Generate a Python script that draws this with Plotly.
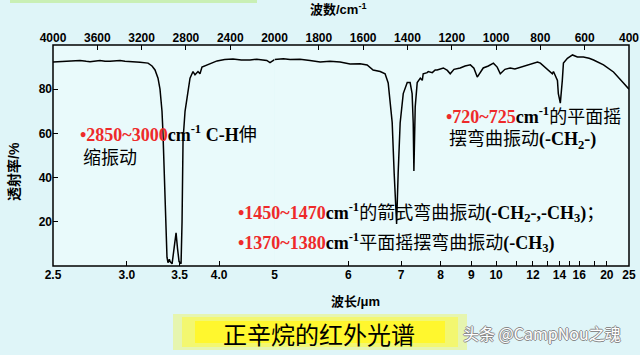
import plotly.graph_objects as go

# ---------------- data ----------------
wavenumber = [4000, 3900, 3846, 3756, 3700, 3666, 3576, 3530, 3485, 3420, 3395, 3350, 3305,
              3260, 3214, 3142, 3106, 3079, 3052, 3034, 3016, 3007, 2989, 2971, 2962, 2950,
              2943, 2925, 2907, 2889, 2876, 2862, 2844, 2835, 2826, 2808, 2790, 2763, 2736,
              2718, 2691, 2673, 2655, 2610, 2555, 2519, 2450, 2375, 2300, 2221, 2160, 2113,
              2070, 2041, 2000,
              1960, 1930, 1885, 1840, 1794, 1750, 1704, 1659, 1614, 1582, 1555, 1523, 1501,
              1487, 1478, 1469, 1460, 1453, 1449, 1442, 1433, 1419, 1401, 1388, 1379, 1374,
              1371, 1365, 1356, 1342, 1333, 1329, 1311, 1306, 1288, 1275, 1266, 1238, 1220,
              1207, 1190, 1162, 1140, 1116, 1100, 1085, 1070, 1058, 1035, 1012, 995, 981,
              960, 936, 915, 890, 859, 835, 813, 800, 780, 768, 746, 741, 723, 719, 710, 701,
              696, 678, 655, 633, 606, 580, 560, 515, 470, 425, 400]
transmittance = [92.3, 92.6, 92.5, 93.0, 92.6, 92.4, 93.0, 92.6, 92.6, 93.0, 93.0, 92.7, 92.6,
                 92.4, 92.2, 91.8, 90.5, 88.7, 85, 80, 70, 60, 30, 4, 1.5, 3,
                 2, 1, 8, 15, 8, 2, 1, 20, 57, 70, 76, 85, 88,
                 86.5, 88, 87, 90, 91, 92, 92.8, 93.4, 93.7, 93.2, 93.2, 93.6, 93.4,
                 93.0, 92.0, 93.4,
                 93.8, 93.4, 93.6, 93.0, 92.3, 92.6, 92.3, 91.4, 91.5, 91, 88.7, 88, 87,
                 82.8, 75, 65, 42, 27, 19, 42, 64.7, 78, 83, 83, 78, 64.7,
                 43, 72, 83, 85, 84, 87, 87.5, 88, 87.5, 88.7, 88.7, 89.6, 88.5,
                 87, 89, 89.6, 90.5, 91, 89.5, 85.5, 88, 89.6, 90.5, 91.8, 90, 87,
                 89, 89.6, 89.2, 90, 91, 91.6, 92.3, 91.8, 90, 88.7, 87, 88, 84, 78, 73.7, 84,
                 91.8, 94, 95.5, 94.6, 94.6, 94, 93.2, 91, 87.8, 82.8, 80]

wavelength_ticks = [2.5, 3.0, 3.5, 4.0, 5, 6, 7, 8, 9, 10, 11, 12, 13, 14, 15, 16, 18, 20, 25]
wavelength_labels = ["2.5", "3.0", "3.5", "4.0", "5", "6", "7", "8", "9", "10", "", "12", "",
                     "14", "", "16", "", "20", "25"]
wavenumber_ticks = [4000, 3600, 3200, 2800, 2400, 2000, 1800, 1600, 1400, 1200, 1000, 800, 600, 400]
transmittance_ticks = [20, 40, 60, 80]

# ---------------- geometry helpers ----------------
L, R, T, B = 53, 11, 45, 89
W, H = 640, 355
PW, PH = W - L - R, H - T - B
def px(x):
    return (x - L) / PW
def py(y):
    return (H - B - y) / PH

split = 5 / 13  # 4000-2000 occupies 5 of 13 equal divisions

left = [(w, t) for w, t in zip(wavenumber, transmittance) if w >= 2000]
right = [(w, t) for w, t in zip(wavenumber, transmittance) if w <= 2000]
lx, ly = [p[0] for p in left], [p[1] for p in left]
rx, ry = [p[0] for p in right], [p[1] for p in right]

fig = go.Figure()
fig.add_trace(go.Scatter(x=lx, y=ly, mode="lines", line=dict(color="black", width=1.5),
                         xaxis="x", yaxis="y", hoverinfo="skip", showlegend=False))
fig.add_trace(go.Scatter(x=rx, y=ry, mode="lines", line=dict(color="black", width=1.5),
                         xaxis="x2", yaxis="y", hoverinfo="skip", showlegend=False))
# same data bound to the top (wavenumber) axes so that they are drawn
fig.add_trace(go.Scatter(x=lx, y=ly, mode="none", xaxis="x3", yaxis="y",
                         hoverinfo="skip", showlegend=False))
fig.add_trace(go.Scatter(x=rx, y=ry, mode="none", xaxis="x4", yaxis="y",
                         hoverinfo="skip", showlegend=False))

tickfont = dict(family="Liberation Sans, Arial", size=12, color="black", weight="bold")

bl_vals = [10000 / l for l in wavelength_ticks if 10000 / l > 2000]
bl_text = [t for l, t in zip(wavelength_ticks, wavelength_labels) if 10000 / l > 2000]
br_vals = [10000 / l for l in wavelength_ticks if 10000 / l <= 2000]
br_text = [t for l, t in zip(wavelength_ticks, wavelength_labels) if 10000 / l <= 2000]

tl_vals = [w for w in wavenumber_ticks if w >= 2000]
tr_vals = [w for w in wavenumber_ticks if w < 2000]

common_x = dict(showgrid=False, zeroline=False, showline=False, ticks="inside", ticklen=5,
                tickwidth=1, tickcolor="black", tickfont=tickfont, fixedrange=True,
                automargin=False)

fig.update_layout(
    width=W, height=H,
    margin=dict(l=L, r=R, t=T, b=B, autoexpand=False),
    paper_bgcolor="#DFF5F8",
    plot_bgcolor="#E9FAFB",
    xaxis=dict(domain=[0, split], range=[4000, 2000], anchor="y", side="bottom",
               tickmode="array", tickvals=bl_vals, ticktext=bl_text, **common_x),
    xaxis2=dict(domain=[split, 1], range=[2000, 400], anchor="y", side="bottom",
                tickmode="array", tickvals=br_vals, ticktext=br_text, **common_x),
    xaxis3=dict(overlaying="x", range=[4000, 2000], anchor="y", side="top",
                tickmode="array", tickvals=tl_vals, ticktext=[str(v) for v in tl_vals],
                **common_x),
    xaxis4=dict(overlaying="x2", range=[2000, 400], anchor="y", side="top",
                tickmode="array", tickvals=tr_vals, ticktext=[str(v) for v in tr_vals],
                **common_x),
    yaxis=dict(range=[0, 100], showgrid=False, zeroline=False, showline=False,
               ticks="inside", ticklen=5, tickcolor="black", tickfont=tickfont,
               tickmode="array", tickvals=transmittance_ticks, fixedrange=True,
               automargin=False),
    showlegend=False,
)

shapes = [
    # plot frame
    dict(type="rect", xref="paper", yref="paper", x0=0, x1=1, y0=0, y1=1,
         line=dict(color="black", width=1.5), fillcolor="rgba(0,0,0,0)", layer="above"),
    # green strip at top
    dict(type="rect", xref="paper", yref="paper", x0=px(10), x1=px(257), y0=py(3), y1=py(0),
         line=dict(width=0), fillcolor="#C9EFB5", layer="below"),
    # title highlight (layered to mimic gradient)
    dict(type="rect", xref="paper", yref="paper", x0=px(173), x1=px(467), y0=py(350), y1=py(314),
         line=dict(width=0), fillcolor="#E6F5B0", layer="below"),
    dict(type="rect", xref="paper", yref="paper", x0=px(182), x1=px(458), y0=py(347), y1=py(317),
         line=dict(width=0), fillcolor="#F3F770", layer="below"),
    dict(type="rect", xref="paper", yref="paper", x0=px(195), x1=px(445), y0=py(343), y1=py(321),
         line=dict(width=0), fillcolor="#FFF72E", layer="below"),
]
fig.update_layout(shapes=shapes)

RED = "#EE2A2A"
txtfont = dict(family="Liberation Serif, Noto Sans CJK SC", size=18, color="black")

def ann(x, y, text, **kw):
    d = dict(xref="paper", yref="paper", x=px(x), y=py(y), text=text, showarrow=False,
             xanchor="left", yanchor="middle", font=txtfont)
    d.update(kw)
    return d

annotations = [
    ann(78, 133, f"<span style='color:{RED}'><b>•2850~3000</b></span><b>cm<sup>-1</sup> C-H</b>伸"),
    ann(81, 158, "缩振动"),
    ann(236, 212, f"<span style='color:{RED}'><b>•1450~1470</b></span><b>cm<sup>-1</sup></b>的箭式弯曲振动<b>(-CH<sub>2</sub>-,-CH<sub>3</sub>)</b>；"),
    ann(236, 242, f"<span style='color:{RED}'><b>•1370~1380</b></span><b>cm<sup>-1</sup></b>平面摇摆弯曲振动<b>(-CH<sub>3</sub>)</b>"),
    ann(444, 115, f"<span style='color:{RED}'><b>•720~725</b></span><b>cm<sup>-1</sup></b>的平面摇"),
    ann(447, 140, "摆弯曲振动<b>(-CH<sub>2</sub>-)</b>"),
    # axis titles
    dict(xref="paper", yref="paper", x=px(338), y=py(9), text="<b>波数/cm<sup>-1</sup></b>",
         showarrow=False, xanchor="center", yanchor="middle",
         font=dict(family="Liberation Sans, Noto Sans CJK SC", size=13, color="black")),
    dict(xref="paper", yref="paper", x=px(355), y=py(301), text="<b>波长/μm</b>",
         showarrow=False, xanchor="center", yanchor="middle",
         font=dict(family="Liberation Sans, Noto Sans CJK SC", size=13, color="black")),
    dict(xref="paper", yref="paper", x=px(14), y=py(172), text="<b>透射率/%</b>", textangle=-90,
         showarrow=False, xanchor="center", yanchor="middle",
         font=dict(family="Liberation Sans, Noto Sans CJK SC", size=14, color="black")),
    # slide title
    dict(xref="paper", yref="paper", x=px(319), y=py(333), text="正辛烷的红外光谱",
         showarrow=False, xanchor="center", yanchor="middle",
         font=dict(family="Noto Sans CJK SC", size=24, color="black")),
    # watermark
    dict(xref="paper", yref="paper", x=px(461), y=py(333), text="头条 @CampNou之魂",
         showarrow=False, xanchor="left", yanchor="middle",
         font=dict(family="Noto Sans CJK SC", size=16, color="white",
                   shadow="-1px 0 #8a8a8a, 1px 0 #8a8a8a, 0 1px #8a8a8a, 0 -1px #8a8a8a")),
]
fig.update_layout(annotations=annotations)

fig.write_html("out.html", config={"displayModeBar": False},
               post_script="document.body.style.margin='0';document.body.style.overflow='hidden';")
